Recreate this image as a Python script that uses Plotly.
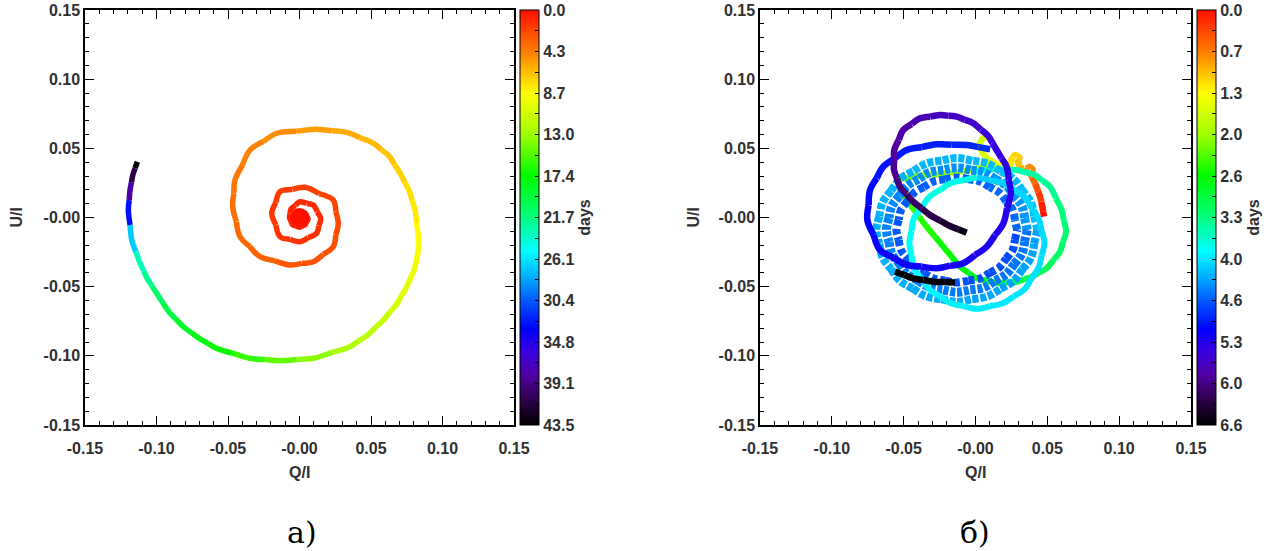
import plotly.graph_objects as go
from plotly.colors import sample_colorscale

# ---------------- data ----------------
# panel a): spiral, Q/I, U/I, time (days)
A_Q = [0.000, 0.002, 0.000, -0.003, -0.003, 0.000, 0.004, 0.006, 0.004, 0.000, -0.005, -0.007, -0.006,
       0.0003, 0.0097, 0.0148, 0.0120, 0.0003, -0.0136, -0.0194, -0.0136, 0.0038,
       0.0236, 0.0271, 0.0236, 0.0097, -0.0066, -0.0276, -0.0416, -0.0467, -0.0451, -0.0346, -0.0159, 0.0120,
       0.0330, 0.0516, 0.0625, 0.0703, 0.0768, 0.0808, 0.0831, 0.0831, 0.0805, 0.0750, 0.0680, 0.0586,
       0.0475, 0.0353, 0.0097, -0.0136, -0.0346, -0.0579, -0.0700, -0.0812, -0.0915, -0.0999, -0.1065,
       -0.1115, -0.1173, -0.1197, -0.1185, -0.1165, -0.1134]
A_U = [0.000, -0.002, -0.004, -0.002, 0.002, 0.004, 0.003, -0.001, -0.005, -0.007, -0.005, 0.000, 0.006,
       0.0114, 0.0090, -0.0006, -0.0114, -0.0175, -0.0139, 0.0030, 0.0187, 0.0218,
       0.0127, -0.0042, -0.0211, -0.0320, -0.0343, -0.0283, -0.0139, 0.0078, 0.0271, 0.0488, 0.0609, 0.0638,
       0.0615, 0.0537, 0.0445, 0.0320, 0.0190, 0.0054, -0.0139, -0.0235, -0.0370, -0.0500, -0.0625, -0.0741,
       -0.0850, -0.0934, -0.1018, -0.1035, -0.1018, -0.0946, -0.0875, -0.0790, -0.0680, -0.0548, -0.0440,
       -0.0331, -0.0163, 0.0054, 0.0199, 0.0310, 0.0403]
A_T = [0.00, 0.07, 0.14, 0.21, 0.28, 0.35, 0.42, 0.49, 0.56, 0.63, 0.70, 0.77, 0.85,
       1.0, 1.1, 1.2, 1.3, 1.4, 1.5, 1.6, 1.75, 1.9,
       2.1, 2.3, 2.5, 2.7, 2.9, 3.2, 3.5, 3.8, 4.1, 4.5, 4.9, 5.4,
       5.9, 6.4, 6.8, 7.2, 7.6, 8.0, 8.6, 9.0, 9.5, 10.0, 10.6, 11.2,
       11.8, 12.4, 13.6, 14.8, 15.9, 17.2, 18.0, 18.8, 19.8, 21.0, 22.2,
       23.5, 27.0, 33.0, 38.0, 41.0, 43.5]
A_TMAX = 43.5
A_TICKS = ["0.0", "4.3", "8.7", "13.0", "17.4", "21.7", "26.1", "30.4", "34.8", "39.1", "43.5"]

# panel б): several pieces of one track
B1_Q = [0.0477, 0.0465, 0.0449, 0.0426, 0.0403, 0.0384, 0.0398, 0.0375, 0.0347, 0.0321, 0.0298, 0.0305,
        0.0275, 0.0252, 0.0245, 0.0205, 0.0147, 0.0096, 0.0050, 0.0027, 0.0050, 0.0089]
B1_U = [0.0006, 0.0078, 0.0151, 0.0218, 0.0271, 0.0315, 0.0348, 0.0367, 0.0343, 0.0355, 0.0392, 0.0435,
        0.0452, 0.0420, 0.0380, 0.0372, 0.0387, 0.0416, 0.0464, 0.0524, 0.0572, 0.0584]
B1_T = [0.00, 0.10, 0.25, 0.40, 0.55, 0.65, 0.70, 0.75, 0.80, 0.90, 1.00, 1.05,
        1.10, 1.15, 1.20, 1.30, 1.40, 1.50, 1.55, 1.60, 1.65, 1.70]

B2_Q = [0.0096, 0.0055, -0.0062, -0.0247, -0.0410, -0.0537, -0.0526, -0.0444, -0.0340, -0.0224, -0.0108,
        0.0008, 0.0147, 0.0287, 0.0391, 0.0495, 0.0588, 0.0630, 0.0600, 0.0519, 0.0414, 0.0287, 0.0124, -0.0015]
B2_U = [0.0416, 0.0367, 0.0339, 0.0315, 0.0300, 0.0271, 0.0199, 0.0078, -0.0066, -0.0211, -0.0355,
        -0.0440, -0.0471, -0.0464, -0.0428, -0.0367, -0.0247, -0.0102, 0.0054, 0.0222, 0.0307, 0.0343, 0.0348, 0.0331]
B2_T = [1.72, 1.75, 1.85, 2.00, 2.10, 2.20, 2.30, 2.40, 2.50, 2.60, 2.70,
        2.80, 2.90, 3.00, 3.05, 3.10, 3.17, 3.24, 3.30, 3.38, 3.46, 3.52, 3.58, 3.65]

B3_Q = [0.001, -0.017, -0.032, -0.043, -0.046, -0.043, -0.032, -0.017, 0.001, 0.019, 0.034, 0.044, 0.048,
        0.044, 0.034, 0.019, 0.001]
B3_U = [0.029, 0.025, 0.015, -0.001, -0.0185, -0.036, -0.052, -0.062, -0.066, -0.062, -0.052, -0.036, -0.0185,
        -0.001, 0.015, 0.025, 0.029]
B3_T = [3.70, 3.72, 3.74, 3.77, 3.80, 3.83, 3.86, 3.89, 3.92, 3.94, 3.96, 3.98, 4.00, 4.02, 4.04, 4.06, 4.08]

B4_Q = [0.043, 0.0387, 0.0266, 0.0084, -0.013, -0.0344, -0.0526, -0.0647, -0.069, -0.0647, -0.0526, -0.0344,
        -0.013, 0.0084, 0.0266, 0.0387, 0.043]
B4_U = [-0.009, 0.0109, 0.0278, 0.039, 0.043, 0.039, 0.0278, 0.0109, -0.009, -0.0289, -0.0458, -0.057,
        -0.061, -0.057, -0.0458, -0.0289, -0.009]
B4_T = [4.15, 4.16, 4.17, 4.18, 4.19, 4.20, 4.21, 4.22, 4.23, 4.24, 4.25, 4.26, 4.27, 4.28, 4.29, 4.30, 4.31]

B5_Q = [0.036, 0.0323, 0.0216, 0.0058, -0.013, -0.0318, -0.0476, -0.0583, -0.062, -0.0583, -0.0476, -0.0318,
        -0.013, 0.0058, 0.0216, 0.0323, 0.036]
B5_U = [-0.009, 0.0082, 0.0228, 0.0326, 0.036, 0.0326, 0.0228, 0.0082, -0.009, -0.0262, -0.0408, -0.0506,
        -0.054, -0.0506, -0.0408, -0.0262, -0.009]
B5_T = [4.35, 4.36, 4.37, 4.38, 4.39, 4.40, 4.41, 4.42, 4.43, 4.44, 4.45, 4.46, 4.47, 4.48, 4.49, 4.50, 4.51]

B6_Q = [0.029, 0.0258, 0.0167, 0.0031, -0.013, -0.0291, -0.0427, -0.0518, -0.055, -0.0518, -0.0427, -0.0291,
        -0.013, 0.0031, 0.0167, 0.0258, 0.029]
B6_U = [-0.009, 0.0056, 0.0179, 0.0261, 0.029, 0.0261, 0.0179, 0.0056, -0.009, -0.0236, -0.0359, -0.0441,
        -0.047, -0.0441, -0.0359, -0.0236, -0.009]
B6_T = [4.55, 4.56, 4.57, 4.58, 4.59, 4.60, 4.61, 4.62, 4.63, 4.64, 4.65, 4.66, 4.67, 4.68, 4.69, 4.70, 4.71]

B7_Q = [0.0102, -0.0061, -0.0270, -0.0479, -0.0642, -0.0734, -0.0753, -0.0665, -0.0479, -0.0270, -0.0085,
        0.0078, 0.0194, 0.0245, 0.0217, 0.0147, 0.0089, -0.0015, -0.0131, -0.0247, -0.0386, -0.0502, -0.0565,
        -0.0567, -0.0526, -0.0433, -0.0317, -0.0178, -0.0062]
B7_U = [0.0493, 0.0524, 0.0529, 0.0488, 0.0367, 0.0199, -0.0018, -0.0235, -0.0343, -0.0367, -0.0330,
        -0.0211, -0.0042, 0.0175, 0.0367, 0.0488, 0.0589, 0.0681, 0.0729, 0.0741, 0.0717, 0.0633, 0.0488,
        0.0343, 0.0223, 0.0114, 0.0018, -0.0061, -0.0110]
B7_T = [4.85, 4.90, 4.93, 4.96, 5.00, 5.04, 5.08, 5.12, 5.16, 5.20, 5.23,
        5.26, 5.30, 5.33, 5.37, 5.42, 5.45, 5.52, 5.58, 5.64, 5.70, 5.76, 5.82,
        5.88, 5.96, 6.06, 6.20, 6.35, 6.50]

B8_Q = [-0.0143, -0.0293, -0.0433, -0.0560]
B8_U = [-0.0469, -0.0464, -0.0440, -0.0392]
B8_T = [6.55, 6.57, 6.59, 6.60]

B_TMAX = 6.6
B_TICKS = ["0.0", "0.7", "1.3", "2.0", "2.6", "3.3", "4.0", "4.6", "5.3", "6.0", "6.6"]

AX_TICKVALS = [-0.15, -0.10, -0.05, 0.0, 0.05, 0.10, 0.15]
AX_TICKTEXT = ["-0.15", "-0.10", "-0.05", "-0.00", "0.05", "0.10", "0.15"]

# reversed rainbow: scale position 0 = latest time (black), 1 = time zero (red)
CSCALE = [
    [0.00, "rgb(0,0,0)"],
    [0.06, "rgb(45,0,75)"],
    [0.12, "rgb(80,0,160)"],
    [0.18, "rgb(55,0,225)"],
    [0.23, "rgb(0,0,255)"],
    [0.30, "rgb(0,90,255)"],
    [0.35, "rgb(0,165,255)"],
    [0.42, "rgb(0,255,255)"],
    [0.50, "rgb(0,255,125)"],
    [0.60, "rgb(0,250,0)"],
    [0.70, "rgb(160,255,0)"],
    [0.80, "rgb(255,255,0)"],
    [0.90, "rgb(255,125,0)"],
    [1.00, "rgb(255,15,0)"],
]

W, H = 1278, 551
FONT = "Liberation Sans, Arial, Helvetica, sans-serif"
TXT = "#303030"

fig = go.Figure()


def tcolor(tv, tmax):
    s = 1.0 - tv / tmax
    return sample_colorscale(CSCALE, [min(max(s, 0.0), 1.0)])[0]


def add_path(q, u, t, tmax, xa, ya, width, dash=None):
    """Each read point gets its own short smooth piece (from the middle of the
    previous step to the middle of the next one), coloured by its time."""
    n = len(q)
    for k in range(n):
        xs, ys = [], []
        if k == 0:
            xs.append(q[0]); ys.append(u[0])
        else:
            xs.append((q[k - 1] + q[k]) / 2); ys.append((u[k - 1] + u[k]) / 2)
        xs.append(q[k]); ys.append(u[k])
        if k < n - 1:
            xs.append((q[k] + q[k + 1]) / 2); ys.append((u[k] + u[k + 1]) / 2)
        fig.add_trace(go.Scatter(
            x=xs, y=ys, mode="lines",
            line=dict(color=tcolor(t[k], tmax), width=width, dash=dash or "solid",
                      shape="spline", smoothing=1.0),
            xaxis=xa, yaxis=ya, hoverinfo="skip", showlegend=False))


def colorbar_trace(xa, ya, tmax, labels, xpos):
    n = len(labels) - 1
    vals, txt = [], []
    for k in range(2 * n + 1):
        vals.append(-tmax * k / (2 * n))
        txt.append(labels[k // 2] if k % 2 == 0 else "")
    fig.add_trace(go.Scatter(
        x=[None], y=[None], mode="markers", xaxis=xa, yaxis=ya, showlegend=False, hoverinfo="skip",
        marker=dict(size=1, color=[0], colorscale=CSCALE, cmin=-tmax, cmax=0, showscale=True,
                    colorbar=dict(
                        x=xpos / W, xanchor="left", y=(H - 425) / H, yanchor="bottom",
                        len=415 / H, lenmode="fraction", thickness=19, thicknessmode="pixels",
                        xpad=0, ypad=0, outlinewidth=1, outlinecolor="black",
                        tickmode="array", tickvals=vals, ticktext=txt,
                        ticks="inside", ticklen=4, tickcolor="black", tickwidth=1,
                        tickfont=dict(family=FONT, size=16, color=TXT, weight="bold"),
                        title=dict(text="days", side="right",
                                   font=dict(family=FONT, size=16, color=TXT, weight="bold")),
                    ))))


# panel a)
add_path(A_Q, A_U, A_T, A_TMAX, "x", "y", 5.5)
fig.add_trace(go.Scatter(  # the tightly wound start of the track shows as a red disc
    x=A_Q[:1], y=A_U[:1], mode="markers", xaxis="x", yaxis="y", hoverinfo="skip", showlegend=False,
    marker=dict(size=19, color=[-A_T[0]], colorscale=CSCALE, cmin=-A_TMAX, cmax=0, line=dict(width=0))))
colorbar_trace("x", "y", A_TMAX, A_TICKS, 519.6)

# panel б)
add_path(B1_Q, B1_U, B1_T, B_TMAX, "x2", "y2", 6.5)
add_path(B2_Q, B2_U, B2_T, B_TMAX, "x2", "y2", 6)
add_path(B4_Q, B4_U, B4_T, B_TMAX, "x2", "y2", 8, dash="6px,2px")
add_path(B5_Q, B5_U, B5_T, B_TMAX, "x2", "y2", 9, dash="5px,2px")
add_path(B6_Q, B6_U, B6_T, B_TMAX, "x2", "y2", 8, dash="6px,3px")
add_path(B3_Q, B3_U, B3_T, B_TMAX, "x2", "y2", 6)
add_path(B7_Q, B7_U, B7_T, B_TMAX, "x2", "y2", 6.5)
add_path(B8_Q, B8_U, B8_T, B_TMAX, "x2", "y2", 6.5)
colorbar_trace("x2", "y2", B_TMAX, B_TICKS, 1197)


def axis(domain, anchor, standoff):
    return dict(
        domain=domain, anchor=anchor, range=[-0.15, 0.15], automargin=False,
        tickmode="array", tickvals=AX_TICKVALS, ticktext=AX_TICKTEXT,
        ticks="inside", ticklen=9, tickwidth=1, tickcolor="black",
        minor=dict(dtick=0.01, tick0=0, ticks="inside", ticklen=4.5, tickwidth=1, tickcolor="black"),
        showline=True, linecolor="black", linewidth=1.5, mirror="ticks",
        showgrid=False, zeroline=False, ticklabelstandoff=standoff,
        tickfont=dict(family=FONT, size=16, color=TXT, weight="bold"),
    )


ydom = [(H - 425) / H, (H - 10) / H]
xa1 = axis([85 / W, 514 / W], "y", 8)
ya1 = axis(ydom, "x", 0)
xa2 = axis([760 / W, 1191 / W], "y2", 8)
ya2 = axis(ydom, "x2", 0)

ann_font = dict(family=FONT, size=16, color=TXT, weight="bold")
serif = dict(family="DejaVu Serif, Liberation Serif, serif", size=30, color="black")


def ann(text, x, y, font, angle=0):
    return dict(text=text, x=x / W, y=1 - y / H, xref="paper", yref="paper", showarrow=False,
                xanchor="center", yanchor="middle", font=font, textangle=angle)


annotations = [
    ann("Q/I", 299.5, 472, ann_font),
    ann("U/I", 16, 217.5, ann_font, -90),
    ann("Q/I", 975.5, 472, ann_font),
    ann("U/I", 693, 217.5, ann_font, -90),
    ann("a)", 302, 532, serif),
    ann("б)", 975, 532, serif),
]

fig.update_layout(
    width=W, height=H, margin=dict(l=0, r=0, t=0, b=0, autoexpand=False),
    paper_bgcolor="white", plot_bgcolor="white",
    xaxis=xa1, yaxis=ya1, xaxis2=xa2, yaxis2=ya2,
    annotations=annotations, showlegend=False,
)

fig.write_html("out.html", config={"displayModeBar": False},
               post_script="document.body.style.margin='0px';")
